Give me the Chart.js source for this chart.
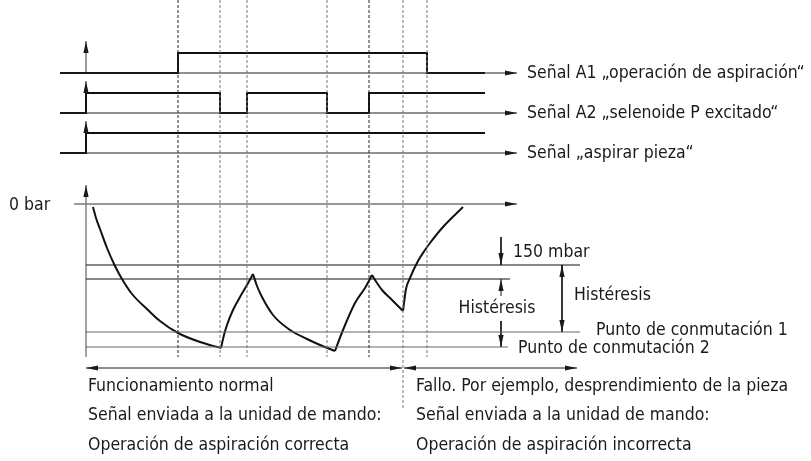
<!DOCTYPE html>
<html>
<head>
<meta charset="utf-8">
<script src="https://cdn.jsdelivr.net/npm/chart.js@4.4.1/dist/chart.umd.min.js"></script>
<style>
  html, body { margin: 0; background: #fff; }
  #wrap { width: 811px; height: 461px; }
</style>
</head>
<body>
<div id="wrap"><canvas id="diagram"></canvas></div>
<script>
// time axis runs left to right, level axis top to bottom (diagram units)
const markerTimes = [178, 220, 247, 327, 369, 403, 427];
const markerEnds = [357, 357, 357, 357, 357, 410, 357];

const signalNames = [
    'Señal A1 „operación de aspiración“',
    'Señal A2 „selenoide P excitado“',
    'Señal „aspirar pieza“'
];
const signalLow = [73, 113, 153];
const signalHigh = [53, 93, 133];
const signalEdges = [[178, 427], [86, 220, 247, 327, 369], [86]];
const signalStart = 60;
const signalStop = 485;
const axisStop = 517;
const originTime = 86;

// vacuum curve, one piece per falling / rising stretch
const pressureTime = [
    [93, 96, 100, 107, 115, 122, 132, 148, 160, 178, 200, 221],
    [221, 224, 227, 233, 240, 247, 253],
    [253, 257, 262, 273, 290, 307, 320, 335],
    [335, 343, 355, 365, 372],
    [372, 377, 382, 392, 403],
    [403, 406, 410, 418, 425, 430, 443, 463]
];
const pressureLevel = [
    [207, 218, 229, 248, 266, 279, 294, 310, 321, 333, 342, 348],
    [348, 335, 325, 310, 297, 285, 274],
    [274, 286, 297, 315, 330, 339, 345, 351],
    [351, 330, 303, 288, 275],
    [275, 283, 290, 300, 311],
    [311, 289, 278, 261, 250, 243, 227, 207]
];

const zeroBar = 204;
const thresholdLevels = [265, 279, 332, 347];
const thresholdEnds = [580, 510, 580, 508];

const bottomLeft = ['Funcionamiento normal', 'Señal enviada a la unidad de mando:', 'Operación de aspiración correcta'];
const bottomRight = ['Fallo. Por ejemplo, desprendimiento de la pieza', 'Señal enviada a la unidad de mando:', 'Operación de aspiración incorrecta'];

const FONT = '17.5px "DejaVu Sans Condensed", "Liberation Sans", sans-serif';
const INK = '#1a1a1a';

function pts(xs, ys) {
    return xs.map((x, i) => ({ x: x, y: ys[i] }));
}

function wave(edges, low, high) {
    const out = [{ x: signalStart, y: low }];
    let level = low;
    edges.forEach(t => {
        out.push({ x: t, y: level });
        level = level === low ? high : low;
        out.push({ x: t, y: level });
    });
    out.push({ x: signalStop, y: level });
    return out;
}

const datasets = [];

function addLine(data, opts) {
    datasets.push(Object.assign({
        data: data,
        showLine: true,
        pointRadius: 0,
        borderColor: INK,
        borderWidth: 1,
        tension: 0,
        fill: false
    }, opts || {}));
}

// dashed time markers
markerTimes.forEach((t, i) => {
    addLine([{ x: t, y: 0 }, { x: t, y: markerEnds[i] }], {
        borderDash: [3, 2],
        borderColor: (i === 0 || i === 4) ? '#222' : '#777'
    });
});

// signal rows
signalNames.forEach((name, i) => {
    addLine([{ x: signalStart, y: signalLow[i] }, { x: axisStop, y: signalLow[i] }], { arrow: 'end', borderColor: '#222' });
    addLine(wave(signalEdges[i], signalLow[i], signalHigh[i]), { borderWidth: 2, borderColor: '#111' });
    addLine([{ x: originTime, y: signalLow[i] }, { x: originTime, y: signalHigh[i] - 12 }], { arrow: 'end', borderColor: '#333' });
});

// pressure axes
addLine([{ x: 74, y: zeroBar }, { x: axisStop, y: zeroBar }], { arrow: 'end', borderColor: '#777', borderWidth: 1.5 });
addLine([{ x: originTime, y: 357 }, { x: originTime, y: 185 }], { arrow: 'end', borderColor: '#444' });

thresholdLevels.forEach((lv, i) => {
    addLine([{ x: originTime, y: lv }, { x: thresholdEnds[i], y: lv }], { borderColor: i < 2 ? '#111' : '#666' });
});

// pressure curve
pressureTime.forEach((ts, i) => {
    addLine(pts(ts, pressureLevel[i]), { borderWidth: 2, borderColor: '#111', cubicInterpolationMode: 'monotone' });
});

// dimension arrows
addLine([{ x: 501, y: 237 }, { x: 501, y: thresholdLevels[0] }], { arrow: 'end' });
addLine([{ x: 501, y: 296 }, { x: 501, y: thresholdLevels[1] }], { arrow: 'end' });
addLine([{ x: 501, y: 321 }, { x: 501, y: thresholdLevels[3] }], { arrow: 'end' });
addLine([{ x: 562, y: thresholdLevels[0] }, { x: 562, y: thresholdLevels[2] }], { arrow: 'both' });

// phase arrows
addLine([{ x: originTime, y: 368 }, { x: 402, y: 368 }], { arrow: 'both' });
addLine([{ x: 404, y: 368 }, { x: 577, y: 368 }], { arrow: 'both' });

const labels = [
    { text: signalNames[0], x: 527, y: signalLow[0] },
    { text: signalNames[1], x: 527, y: signalLow[1] },
    { text: signalNames[2], x: 527, y: signalLow[2] },
    { text: '0 bar', x: 9, y: 205 },
    { text: '150 mbar', x: 513, y: 252 },
    { text: 'Histéresis', x: 497, y: 308, align: 'center' },
    { text: 'Histéresis', x: 574, y: 295 },
    { text: 'Punto de conmutación 1', x: 596, y: 330 },
    { text: 'Punto de conmutación 2', x: 518, y: 348 }
];
bottomLeft.forEach((t, i) => labels.push({ text: t, x: 88, y: 386 + i * 29.5 }));
bottomRight.forEach((t, i) => labels.push({ text: t, x: 416, y: 386 + i * 29.5 }));

const arrowPlugin = {
    id: 'arrows',
    afterDatasetsDraw(chart) {
        const ctx = chart.ctx;
        chart.data.datasets.forEach((ds, di) => {
            if (!ds.arrow) return;
            const el = chart.getDatasetMeta(di).data;
            const head = (tip, from) => {
                const a = Math.atan2(tip.y - from.y, tip.x - from.x);
                const len = 12, half = 2.6;
                ctx.save();
                ctx.translate(tip.x, tip.y);
                ctx.rotate(a);
                ctx.beginPath();
                ctx.moveTo(0, 0);
                ctx.lineTo(-len, -half);
                ctx.lineTo(-len, half);
                ctx.closePath();
                ctx.fillStyle = INK;
                ctx.fill();
                ctx.restore();
            };
            const n = el.length;
            if (ds.arrow === 'end' || ds.arrow === 'both') head(el[n - 1], el[n - 2]);
            if (ds.arrow === 'start' || ds.arrow === 'both') head(el[0], el[1]);
        });
    }
};

const textPlugin = {
    id: 'texts',
    afterDraw(chart) {
        const ctx = chart.ctx;
        const sx = chart.scales.x, sy = chart.scales.y;
        ctx.save();
        ctx.font = FONT;
        ctx.fillStyle = INK;
        ctx.textBaseline = 'middle';
        labels.forEach(l => {
            const px = sx.getPixelForValue(l.x), py = sy.getPixelForValue(l.y);
            const w = ctx.measureText(l.text).width;
            if (l.align === 'center') {
                ctx.fillStyle = '#fff';
                ctx.fillRect(px - w / 2 - 2, py - 9, w + 4, 18);
                ctx.fillStyle = INK;
            }
            ctx.textAlign = l.align || 'left';
            ctx.fillText(l.text, px, py);
        });
        ctx.restore();
    }
};

new Chart(document.getElementById('diagram'), {
    type: 'scatter',
    data: { datasets: datasets },
    options: {
        responsive: true,
        maintainAspectRatio: false,
        animation: false,
        layout: { padding: 0 },
        plugins: { legend: { display: false }, tooltip: { enabled: false } },
        scales: {
            x: { type: 'linear', min: 0, max: 811, display: false },
            y: { type: 'linear', min: 0, max: 461, reverse: true, display: false }
        }
    },
    plugins: [arrowPlugin, textPlugin]
});
</script>
</body>
</html>
